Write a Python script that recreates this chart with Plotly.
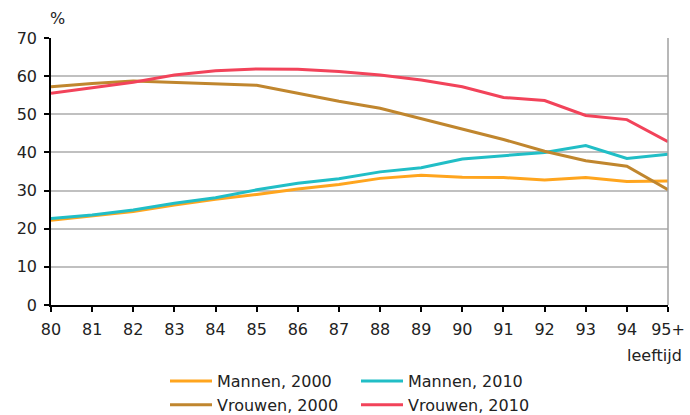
import plotly.graph_objects as go

ages = list(range(80, 96))
age_labels = ["80", "81", "82", "83", "84", "85", "86", "87", "88", "89", "90", "91", "92", "93", "94", "95+"]

mannen_2000 = [22.2, 23.4, 24.5, 26.2, 27.7, 29.0, 30.4, 31.6, 33.2, 34.0, 33.5, 33.4, 32.8, 33.4, 32.4, 32.5]
mannen_2010 = [22.7, 23.6, 24.9, 26.7, 28.1, 30.2, 31.9, 33.1, 34.9, 36.0, 38.3, 39.2, 40.0, 41.8, 38.4, 39.5]
vrouwen_2000 = [57.2, 58.1, 58.7, 58.4, 57.9, 57.6, 55.5, 53.4, 51.6, 48.9, 46.0, 43.4, 40.3, 37.8, 36.4, 30.2]
vrouwen_2010 = [55.5, 56.9, 58.4, 60.3, 61.4, 61.9, 61.8, 61.2, 60.3, 59.0, 57.2, 54.4, 53.6, 49.7, 48.6, 42.8]

series = [
    ("Mannen, 2000", mannen_2000, "#FFA51E", "legend"),
    ("Mannen, 2010", mannen_2010, "#21BEC6", "legend2"),
    ("Vrouwen, 2000", vrouwen_2000, "#C0862E", "legend"),
    ("Vrouwen, 2010", vrouwen_2010, "#F2435A", "legend2"),
]

font = dict(family="DejaVu Sans, Verdana, sans-serif", size=16, color="#222222")

L, R, T, B = 51, 22, 38, 110
W, H = 690, 415
pw, ph = W - L - R, H - T - B

def px_x(x):
    return (x - L) / pw

def px_y(y):
    return (H - B - y) / ph

fig = go.Figure()
for name, vals, color, lg in series:
    fig.add_trace(go.Scatter(x=ages, y=vals, name=name, mode="lines",
                             line=dict(color=color, width=3), legend=lg))

leg_common = dict(xanchor="left", yanchor="top", orientation="v", font=font,
                  tracegroupgap=0, bgcolor="rgba(0,0,0,0)", itemwidth=42)

fig.update_layout(
    width=W, height=H,
    margin=dict(l=L, r=R, t=T, b=B, autoexpand=False),
    paper_bgcolor="white", plot_bgcolor="white",
    font=font,
    xaxis=dict(range=[80, 95], tickvals=ages, ticktext=age_labels,
               showgrid=False, showline=True, linecolor="#000000", linewidth=1.5,
               ticks="outside", ticklen=5, tickcolor="#000000", tickwidth=1.5,
               zeroline=False, automargin=False, ticklabelstandoff=4),
    yaxis=dict(range=[0, 70], dtick=10, showgrid=True, gridcolor="#C0C0C0", gridwidth=1.5,
               showline=True, linecolor="#000000", linewidth=1.5,
               ticks="outside", ticklen=5, tickcolor="#000000", tickwidth=1.5,
               zeroline=False, automargin=False, ticklabelstandoff=4),
    legend=dict(x=px_x(165), y=px_y(364), **leg_common),
    legend2=dict(x=px_x(356), y=px_y(364), **leg_common),
    showlegend=True,
)

fig.add_shape(type="line", xref="paper", yref="paper", x0=1, x1=1, y0=0, y1=1,
              line=dict(color="#A0A0A0", width=1.5))

fig.add_annotation(text="%", xref="paper", yref="paper", x=px_x(57), y=px_y(18),
                   showarrow=False, xanchor="center", yanchor="middle", font=font)
fig.add_annotation(text="leeftijd", xref="paper", yref="paper", x=px_x(684), y=px_y(355),
                   showarrow=False, xanchor="right", yanchor="middle", font=font)

fig.write_html("out.html", config={"displayModeBar": False},
               post_script="document.body.style.margin='0';")
